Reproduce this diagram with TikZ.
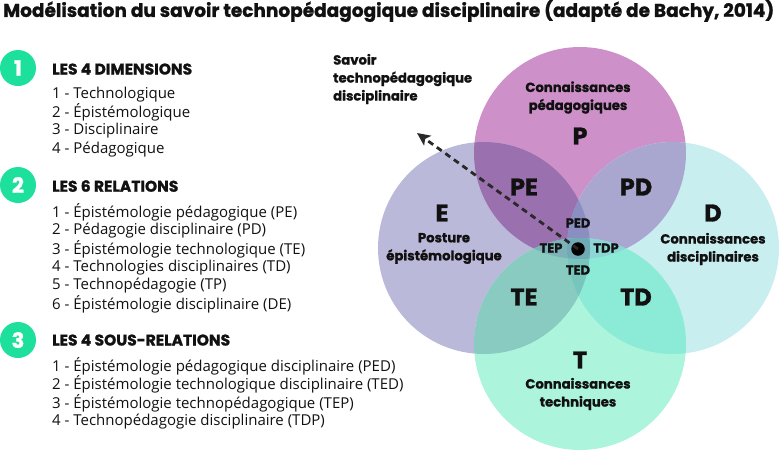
\documentclass[tikz,border=0pt]{standalone}
\usepackage{fontspec}
\setmainfont{Open Sans}
\newfontfamily\pop{Poppins}[UprightFont={* Bold}, FakeBold=1.2]
\usetikzlibrary{arrows.meta}
\definecolor{cP}{HTML}{CD90C9}
\definecolor{cE}{HTML}{BBB9D9}
\definecolor{cD}{HTML}{C8EEF0}
\definecolor{cT}{HTML}{ACF5DC}
\definecolor{cPE}{HTML}{9A70AE}
\definecolor{cPD}{HTML}{A9A7D0}
\definecolor{cTE}{HTML}{89CBC0}
\definecolor{cTD}{HTML}{8CEBD6}
\definecolor{cPED}{HTML}{8A8EC1}
\definecolor{cTEP}{HTML}{7EB2B9}
\definecolor{cTDP}{HTML}{8CD6D5}
\definecolor{cTED}{HTML}{76C6BE}
\definecolor{cALL}{HTML}{70AAB4}
\definecolor{badge}{HTML}{1DE09C}
\definecolor{ink}{HTML}{111111}
\tikzset{
  title/.style={font=\pop\fontsize{18.5}{20}\selectfont, text=ink, inner sep=0pt, anchor=west},
  badgenode/.style={circle, fill=badge, minimum size=36pt, inner sep=0pt, text=white, font=\pop\fontsize{21}{22}\selectfont},
  head/.style={font=\pop\fontsize{15.5}{16}\selectfont, text=ink, inner sep=0pt, anchor=west},
  item/.style={font=\fontsize{15}{17}\selectfont, text=ink, inner sep=0pt, anchor=west},
  lbl/.style={font=\pop\fontsize{13.2}{18}\selectfont, text=ink, inner sep=0pt, align=center},
  big/.style={font=\pop\fontsize{24}{26}\selectfont, text=ink, inner sep=0pt},
  small/.style={font=\pop\fontsize{13}{14}\selectfont, text=ink, inner sep=0pt},
  pointer/.style={line width=2.8pt, color=ink!90, dash pattern=on 6pt off 4.5pt, -{Stealth[length=13pt,width=12pt,inset=3pt]}},
}
\begin{document}
\begin{tikzpicture}[x=1pt,y=-1pt]
\useasboundingbox (0,0) rectangle (779,450);
\def\R{106}
\coordinate (cp) at (580,153);
\coordinate (ce) at (484,248);
\coordinate (cd) at (673,248);
\coordinate (ct) at (580,344);
% single circles
\fill[cP] (cp) circle (\R);
\fill[cE] (ce) circle (\R);
\fill[cD] (cd) circle (\R);
\fill[cT] (ct) circle (\R);
% pairs
\begin{scope}\clip (cp) circle (\R); \fill[cPE] (ce) circle (\R); \fill[cPD] (cd) circle (\R);\end{scope}
\begin{scope}\clip (ct) circle (\R); \fill[cTE] (ce) circle (\R); \fill[cTD] (cd) circle (\R);\end{scope}
% triples
\begin{scope}\clip (cp) circle (\R); \clip (ce) circle (\R); \fill[cPED] (cd) circle (\R);\end{scope}
\begin{scope}\clip (ct) circle (\R); \clip (ce) circle (\R); \fill[cTED] (cd) circle (\R);\end{scope}
\begin{scope}\clip (cp) circle (\R); \clip (ct) circle (\R); \fill[cTEP] (ce) circle (\R); \fill[cTDP] (cd) circle (\R);\end{scope}
\begin{scope}\clip (cp) circle (\R); \clip (ct) circle (\R); \clip (ce) circle (\R); \fill[cALL] (cd) circle (\R);\end{scope}

% title
\node[title] (titre) at (3,11) {Modélisation du savoir technopédagogique disciplinaire (adapté de Bachy, 2014)};

% left column
\node[badgenode] (b1) at (18,68) {1};
\node[head] (h1) at (52,69) {LES 4 DIMENSIONS};
\node[item] (d1) at (52,94.5) {1 - Technologique};
\node[item] (d2) at (52,112.8) {2 - Épistémologique};
\node[item] (d3) at (52,131.1) {3 - Disciplinaire};
\node[item] (d4) at (52,149.4) {4 - Pédagogique};

\node[badgenode] (b2) at (18,185) {2};
\node[head] (h2) at (52,186) {LES 6 RELATIONS};
\node[item] (r1) at (52,212.5) {1 - Épistémologie pédagogique (PE)};
\node[item] (r2) at (52,230.8) {2 - Pédagogie disciplinaire (PD)};
\node[item] (r3) at (52,249.1) {3 - Épistémologie technologique (TE)};
\node[item] (r4) at (52,267.4) {4 - Technologies disciplinaires (TD)};
\node[item] (r5) at (52,285.7) {5 - Technopédagogie (TP)};
\node[item] (r6) at (52,304) {6 - Épistémologie disciplinaire (DE)};

\node[badgenode] (b3) at (18,340) {3};
\node[head] (h3) at (52,340) {LES 4 SOUS-RELATIONS};
\node[item] (s1) at (52,366.5) {1 - Épistémologie pédagogique disciplinaire (PED)};
\node[item] (s2) at (52,384.8) {2 - Épistémologie technologique disciplinaire (TED)};
\node[item] (s3) at (52,403.1) {3 - Épistémologie technopédagogique (TEP)};
\node[item] (s4) at (52,421.4) {4 - Technopédagogie disciplinaire (TDP)};

% diagram labels
\node[lbl, anchor=west, align=left] (savoir) at (333,79) {Savoir\\technopédagogique\\disciplinaire};
\node[lbl] (lp) at (578,97.5) {Connaissances\\pédagogiques};
\node[big] (P) at (580,136) {P};
\node[big] (PE) at (524,187) {PE};
\node[big] (PD) at (636,187) {PD};
\node[big] (E) at (442,213) {E};
\node[lbl] (le) at (444,248.5) {Posture\\épistémologique};
\node[big] (D) at (713,213) {D};
\node[lbl] (ld) at (713,249) {Connaissances\\disciplinaires};
\node[small] (PED) at (578,223) {PED};
\node[small] (TEP) at (551,248) {TEP};
\node[small] (TDP) at (606,248) {TDP};
\node[small] (TED) at (578,270) {TED};
\node[big] (TE) at (524,297) {TE};
\node[big] (TD) at (636,297) {TD};
\node[big] (T) at (580,360) {T};
\node[lbl] (lt) at (578,394) {Connaissances\\techniques};

% dot and arrow
\node[circle, fill=black, minimum size=13.5pt, inner sep=0pt] (dot) at (578,249) {};
\coordinate (tip) at (417,133);
\draw[pointer] (dot.center) -- (tip);
\end{tikzpicture}
\end{document}
